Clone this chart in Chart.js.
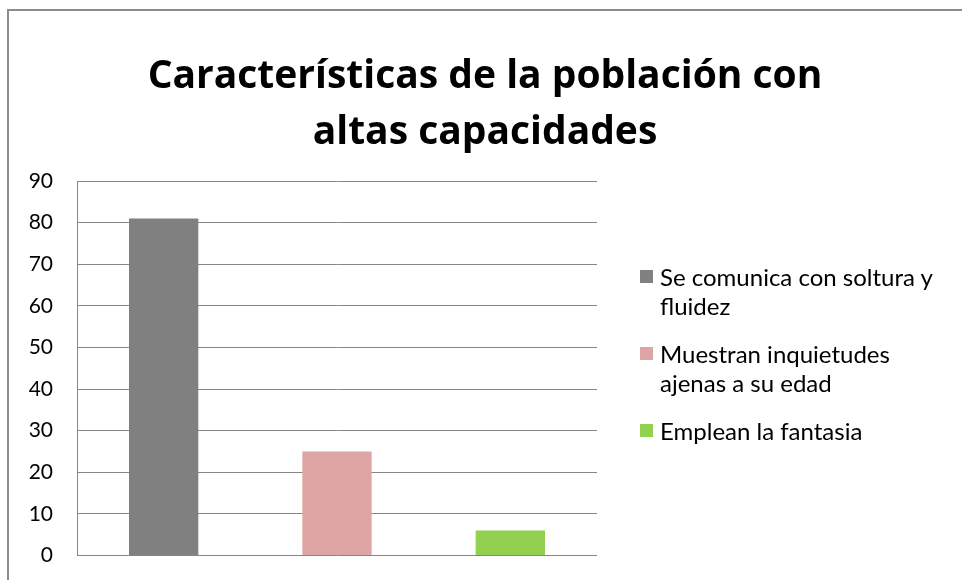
<!DOCTYPE html>
<html lang="es">
<head>
<meta charset="utf-8">
<title>Características de la población con altas capacidades</title>
<script src="https://cdn.jsdelivr.net/npm/chart.js"></script>
<style>
	body { margin: 0; background: #fff; }
	.wrap { position: relative; width: 962px; height: 580px; overflow: hidden; }
	.frame { position: absolute; left: 7px; top: 9px; right: -2px; bottom: -2px; border-top: 2px solid #8c8c8c; border-left: 2px solid #8c8c8c; }
	.titulo { position: absolute; left: 0; width: 970px; top: 45px; text-align: center; font-family: "Open Sans", sans-serif; font-weight: bold; font-size: 39px; line-height: 56px; color: #000; }
	.legend { position: absolute; left: 640px; top: 262px; width: 305px; font-family: Lato, "Open Sans", sans-serif; font-size: 24px; line-height: 29px; color: #000; }
	.legend .item { position: relative; padding-left: 20px; margin-bottom: 19px; }
	.legend .box { position: absolute; left: 0; top: 8px; width: 13px; height: 13px; }
	canvas { position: absolute; left: 0; top: 0; }
</style>
</head>
<body>
<div class="wrap">
	<div class="frame"></div>
	<!-- el lienzo es algo más alto que la ventana para que el eje quede abajo -->
	<canvas id="grafico" width="962" height="592"></canvas>
	<div class="titulo" id="titulo"></div>
	<div class="legend" id="leyenda"></div>
</div>

<script>
const categorias = ["Se comunica con soltura y fluidez", "Muestran inquietudes ajenas a su edad", "Emplean la fantasia"];
const valores = [81, 25, 6];
const colores = ["#808080", "#dfa5a4", "#92d050"];
const titulo = ["Características de la población con", "altas capacidades"];

document.addEventListener("DOMContentLoaded", function () {
	document.getElementById("titulo").innerHTML = titulo.join("<br>");

	// leyenda a la derecha (texto en varias líneas)
	const leyenda = document.getElementById("leyenda");
	categorias.forEach(function (c, i) {
		const d = document.createElement("div");
		d.className = "item";
		d.innerHTML = '<span class="box" style="background:' + colores[i] + '"></span>' + c;
		leyenda.appendChild(d);
	});

	const ctx = document.getElementById("grafico").getContext("2d");
	new Chart(ctx, {
		type: "bar",
		data: {
			labels: categorias,
			datasets: [{
				data: valores,
				backgroundColor: colores,
				borderWidth: 0,
				barPercentage: 0.4,
				categoryPercentage: 1
			}]
		},
		options: {
			responsive: false,
			animation: false,
			layout: { padding: { left: 9, right: 365, top: 181, bottom: 25 } },
			plugins: {
				legend: { display: false },
				tooltip: { enabled: false }
			},
			scales: {
				x: {
					ticks: { display: false },
					grid: { display: false, drawTicks: false },
					border: { display: false }
				},
				y: {
					min: 0,
					max: 90,
					ticks: {
						stepSize: 10,
						padding: 24,
						color: "#000",
						font: { family: "Lato, 'Open Sans', sans-serif", size: 21 }
					},
					grid: { color: "#868686", lineWidth: 1, drawTicks: false },
					border: { display: true, color: "#868686", width: 1 },
					afterFit: function (s) { s.width = 68; }
				}
			}
		}
	});
});
</script>
</body>
</html>
